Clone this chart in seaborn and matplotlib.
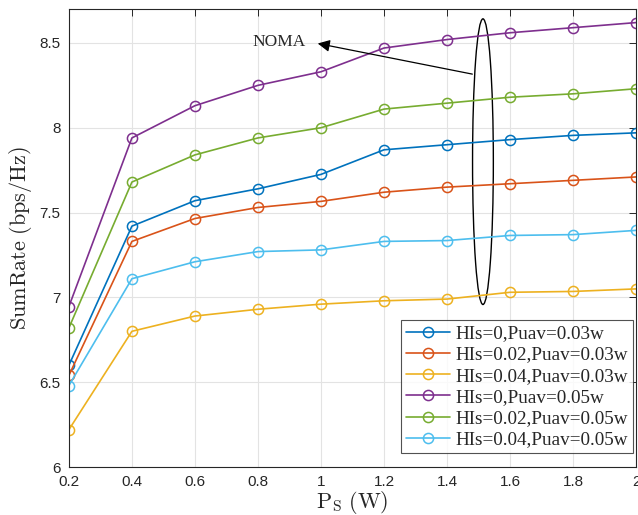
import numpy as np
import pandas as pd
import seaborn as sns
import matplotlib
matplotlib.use("Agg")
import matplotlib.pyplot as plt
from matplotlib.patches import Ellipse

P = [0.2, 0.4, 0.6, 0.8, 1.0, 1.2, 1.4, 1.6, 1.8, 2.0]
labels = ["HIs=0,Puav=0.03w", "HIs=0.02,Puav=0.03w", "HIs=0.04,Puav=0.03w",
          "HIs=0,Puav=0.05w", "HIs=0.02,Puav=0.05w", "HIs=0.04,Puav=0.05w"]
s1 = [6.60, 7.42, 7.57, 7.64, 7.725, 7.87, 7.90, 7.93, 7.955, 7.97]
s2 = [6.54, 7.33, 7.465, 7.53, 7.566, 7.62, 7.65, 7.67, 7.69, 7.71]
s3 = [6.22, 6.80, 6.89, 6.93, 6.96, 6.98, 6.99, 7.03, 7.035, 7.05]
s4 = [6.946, 7.94, 8.13, 8.25, 8.33, 8.47, 8.52, 8.56, 8.59, 8.62]
s5 = [6.82, 7.68, 7.84, 7.94, 8.00, 8.11, 8.145, 8.18, 8.20, 8.23]
s6 = [6.48, 7.11, 7.21, 7.27, 7.28, 7.33, 7.335, 7.365, 7.37, 7.395]
series = [s1, s2, s3, s4, s5, s6]
colors = ["#0072BD", "#D95319", "#EDB120", "#7E2F8E", "#77AC30", "#4DBEEE"]

sns.set_theme(style="whitegrid")
plt.rcParams["font.family"] = ["Liberation Sans", "DejaVu Sans"]
plt.rcParams["mathtext.fontset"] = "cm"

fig = plt.figure(figsize=(6.38, 5.15), dpi=100)
ax = fig.add_axes([0.108, 0.0932, 0.889, 0.8893])

for lab, vals, c in zip(labels, series, colors):
    df = pd.DataFrame({"P": P, "rate": vals})
    sns.lineplot(data=df, x="P", y="rate", ax=ax, color=c, lw=1.2, label=lab,
                 marker="o", markersize=7.3, markerfacecolor="none",
                 markeredgecolor=c, markeredgewidth=1.1)

ax.set_xlim(0.2, 2.0)
ax.set_ylim(6, 8.7)
ax.set_xticks([0.2, 0.4, 0.6, 0.8, 1, 1.2, 1.4, 1.6, 1.8, 2])
ax.set_xticklabels(["0.2", "0.4", "0.6", "0.8", "1", "1.2", "1.4", "1.6", "1.8", "2"])
ax.set_yticks([6, 6.5, 7, 7.5, 8, 8.5])
ax.set_yticklabels(["6", "6.5", "7", "7.5", "8", "8.5"])
ax.set_facecolor("white")
ax.grid(True, color="#e3e3e3", lw=0.8)
for sp in ax.spines.values():
    sp.set_color("#262626")
    sp.set_linewidth(0.8)
ax.tick_params(direction="in", length=5, width=0.7, colors="#262626",
               labelsize=11, top=True, right=True, pad=6)

ax.set_xlabel(r"$\mathrm{P_S}$ $\mathrm{(W)}$", fontsize=16, labelpad=0)
ax.set_ylabel(r"$\mathrm{SumRate\ (bps/Hz)}$", fontsize=16, labelpad=4)

ell = Ellipse((1.514, 7.80), 0.066, 1.684, fill=False, ec="black", lw=1.0)
ax.add_patch(ell)
ax.annotate("", xy=(0.981, 8.5), xytext=(1.489, 8.313),
            arrowprops=dict(arrowstyle="-|>", color="black", lw=0.9,
                            mutation_scale=18))
ax.text(0.95, 8.505, "NOMA", fontsize=12.5, family="Liberation Serif",
        ha="right", va="center")

leg = ax.legend(loc="lower right", bbox_to_anchor=(0.995, 0.03),
                prop={"family": "Liberation Serif", "size": 13.8},
                frameon=True, fancybox=False, edgecolor="#262626",
                borderpad=0.25, labelspacing=0.2, handlelength=2.3,
                handletextpad=0.3, borderaxespad=0.0)
leg.get_frame().set_linewidth(0.8)

fig.savefig("out.png", dpi=100)
